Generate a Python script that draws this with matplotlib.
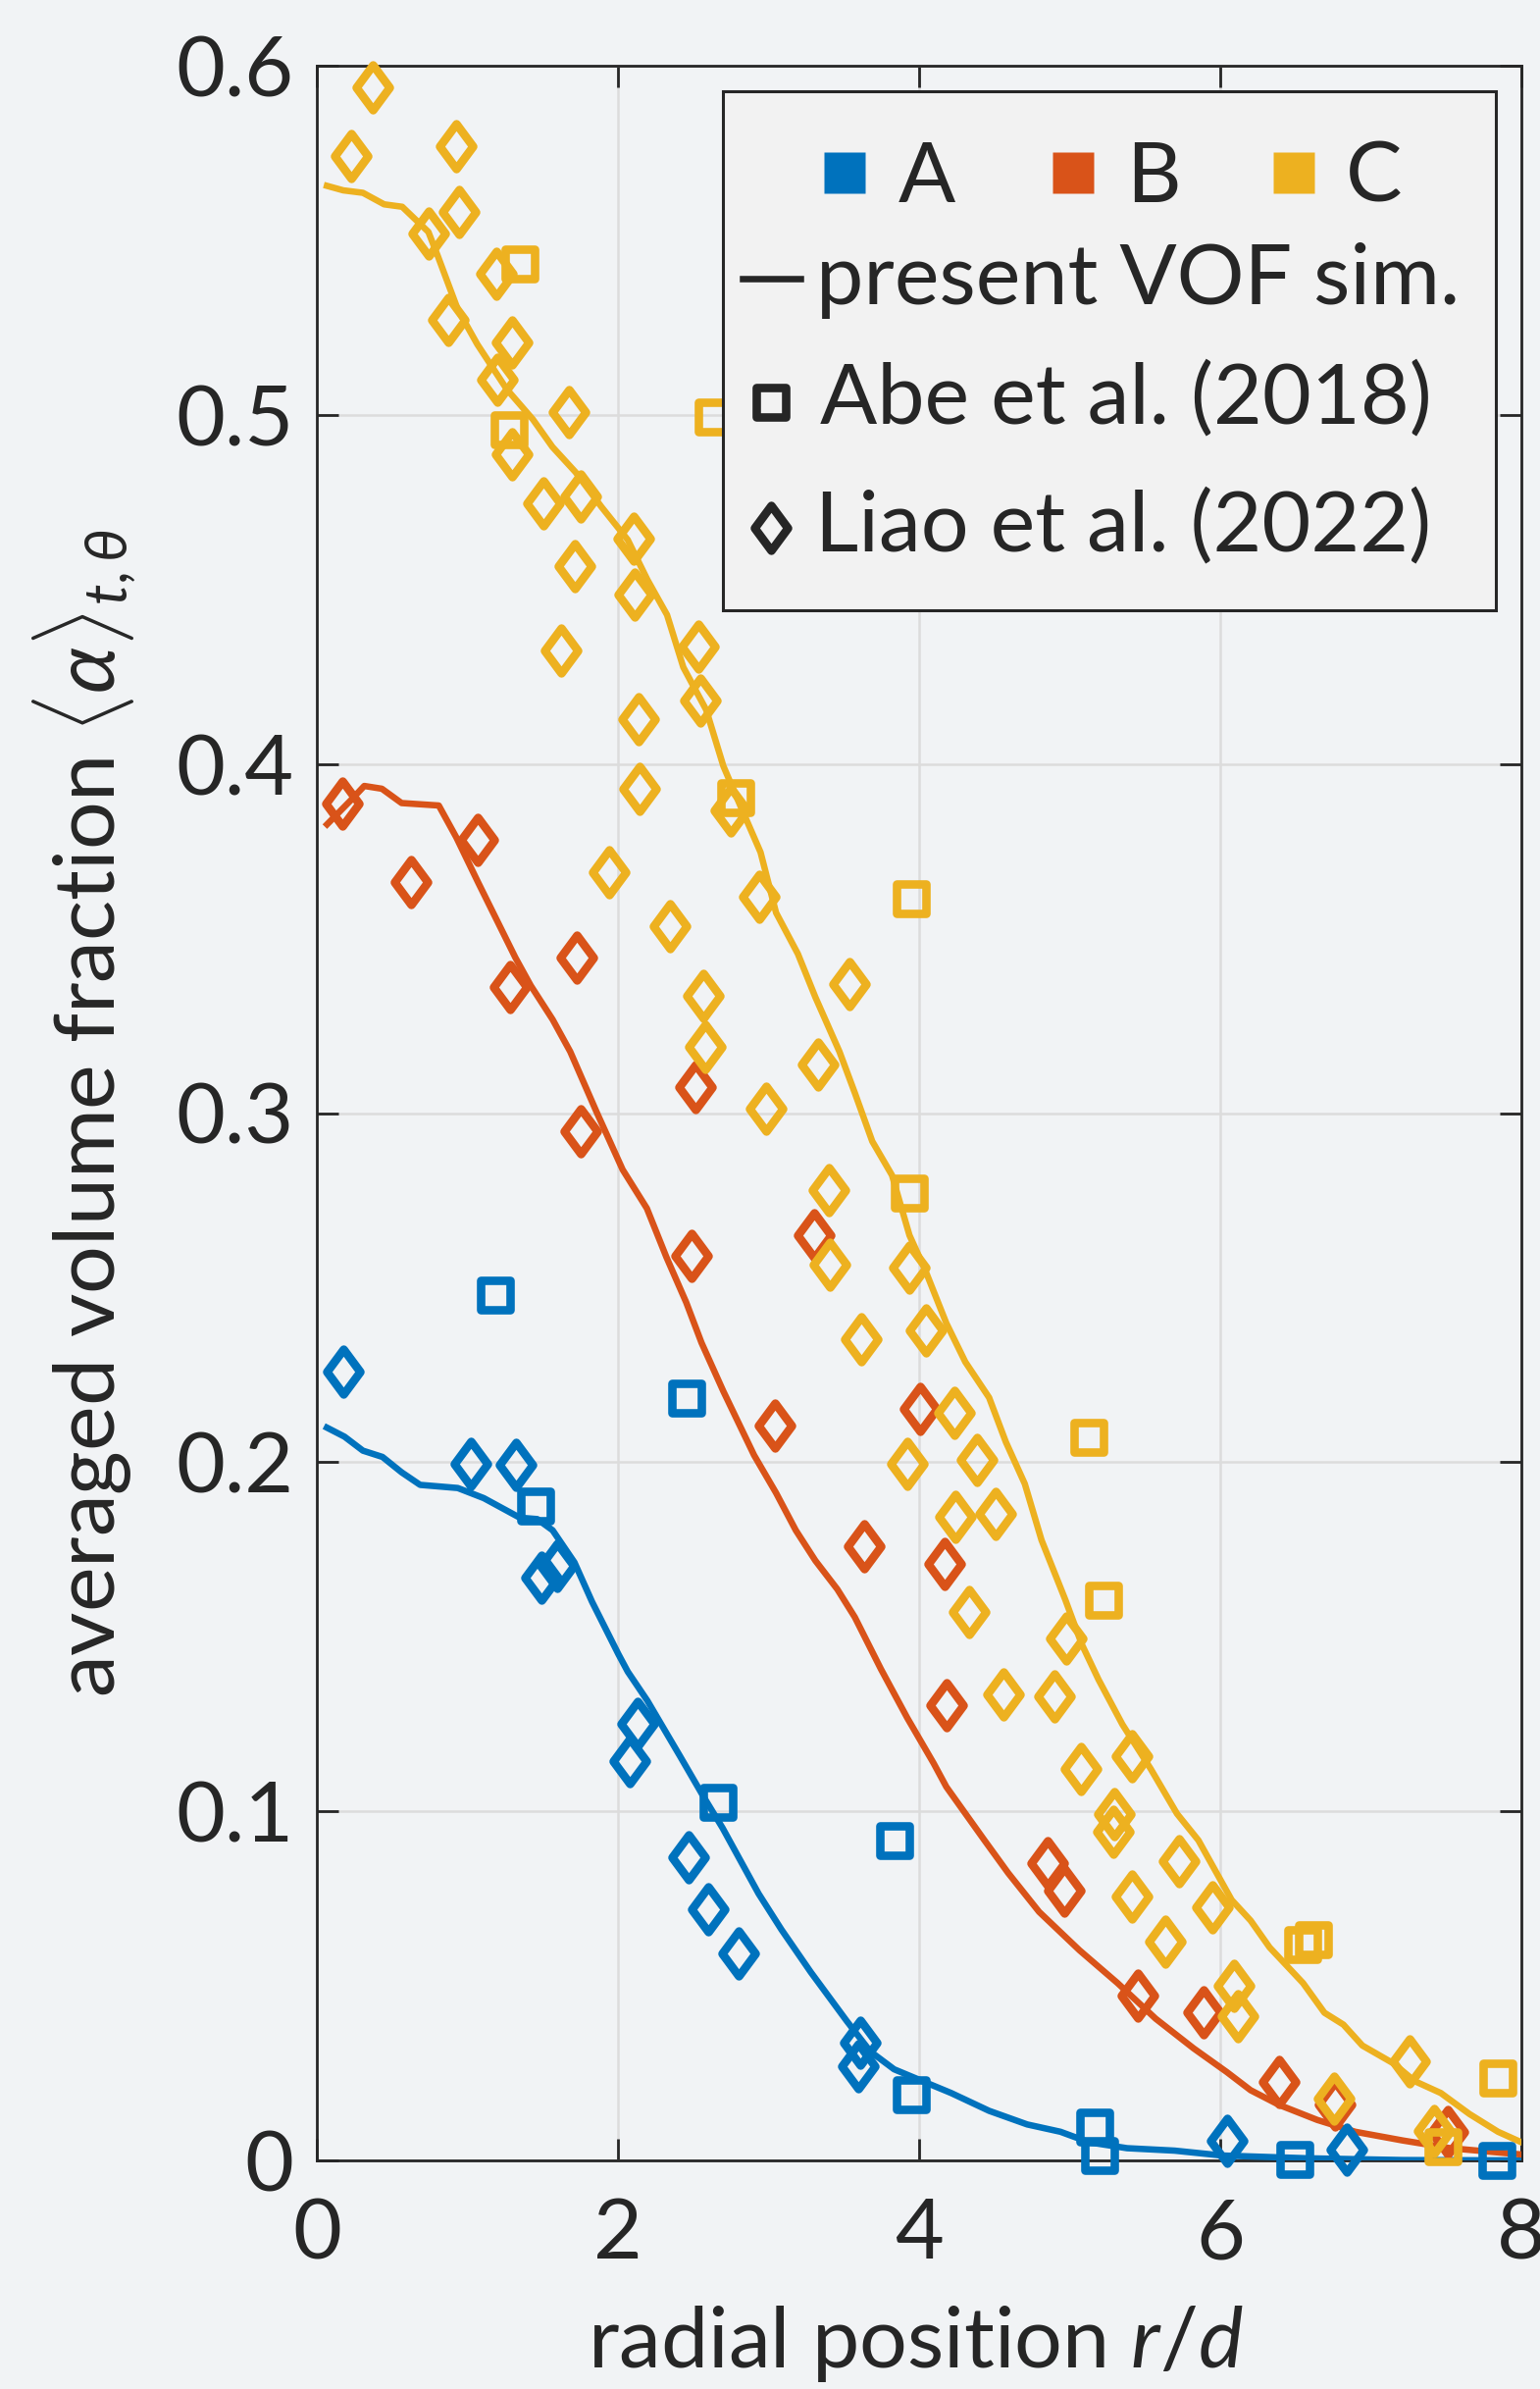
import matplotlib
matplotlib.use("Agg")
import matplotlib.pyplot as plt
from matplotlib.path import Path
from matplotlib.markers import MarkerStyle
from matplotlib.patches import Rectangle

plt.rcParams['font.family'] = ['Lato', 'DejaVu Sans']
plt.rcParams['mathtext.fontset'] = 'custom'
plt.rcParams['mathtext.rm'] = 'Lato'
plt.rcParams['mathtext.it'] = 'Lato:italic'
plt.rcParams['mathtext.bf'] = 'Lato:bold'

# ---- present VOF simulation, case A/B/C ----
r_sim_A = [0.067, 0.184, 0.306, 0.436, 0.563, 0.686, 0.936, 1.109, 1.348, 1.464, 1.566,
           1.711, 1.828, 2.003, 2.065, 2.195, 2.412, 2.564, 2.695, 2.934, 3.086, 3.281,
           3.52, 3.676, 3.834, 4.023, 4.213, 4.465, 4.718, 4.939, 5.128, 5.381, 5.697,
           6.013, 6.581, 7.213, 8.0]
alpha_sim_A = [0.2099, 0.2073, 0.2033, 0.2015, 0.1971, 0.1935, 0.1926, 0.1897, 0.1841,
               0.1837, 0.1805, 0.1713, 0.1600, 0.1450, 0.1400, 0.1317, 0.1158, 0.1045,
               0.0952, 0.0764, 0.0661, 0.0539, 0.0399, 0.0312, 0.0261, 0.0227, 0.0193,
               0.0142, 0.0103, 0.0082, 0.0052, 0.0035, 0.0028, 0.0014, 0.0006, 0.0001,
               0.0]

r_sim_B = [0.068, 0.228, 0.315, 0.432, 0.563, 0.810, 0.926, 1.072, 1.319, 1.421, 1.566,
           1.683, 1.857, 2.031, 2.192, 2.322, 2.453, 2.555, 2.700, 2.904, 3.050, 3.181,
           3.311, 3.457, 3.573, 3.747, 3.922, 4.096, 4.181, 4.434, 4.592, 4.797, 5.065,
           5.318, 5.571, 5.823, 6.044, 6.202, 6.391, 6.644, 6.897, 7.213, 7.528, 8.0]
alpha_sim_B = [0.3827, 0.3897, 0.3937, 0.3929, 0.3888, 0.3881, 0.3790, 0.3660, 0.3445,
               0.3365, 0.3268, 0.3176, 0.3004, 0.2838, 0.2727, 0.2587, 0.2458, 0.2342,
               0.2203, 0.2020, 0.1912, 0.1805, 0.1718, 0.1636, 0.1556, 0.1407, 0.1267,
               0.1138, 0.1070, 0.0917, 0.0823, 0.0712, 0.0602, 0.0508, 0.0406, 0.0321,
               0.0253, 0.0201, 0.0159, 0.0116, 0.0082, 0.0057, 0.0035, 0.0017]

r_sim_C = [0.067, 0.176, 0.306, 0.447, 0.567, 0.741, 0.806, 0.936, 1.066, 1.262, 1.435,
           1.565, 1.718, 1.891, 2.065, 2.195, 2.326, 2.434, 2.586, 2.700, 2.817, 2.947,
           3.050, 3.195, 3.311, 3.471, 3.573, 3.689, 3.820, 3.936, 4.038, 4.181, 4.307,
           4.465, 4.576, 4.702, 4.813, 4.971, 5.081, 5.192, 5.350, 5.539, 5.713, 5.855,
           5.966, 6.076, 6.202, 6.328, 6.550, 6.692, 6.818, 6.944, 7.150, 7.292, 7.465,
           7.655, 7.845, 8.0]
alpha_sim_C = [0.5656, 0.5643, 0.5636, 0.5603, 0.5596, 0.5524, 0.5452, 0.5302, 0.5202,
               0.5073, 0.4987, 0.4908, 0.4836, 0.4736, 0.4642, 0.4528, 0.4427, 0.4277,
               0.4155, 0.3994, 0.3876, 0.3747, 0.3574, 0.3456, 0.3332, 0.3176, 0.3058,
               0.2919, 0.2822, 0.2650, 0.2553, 0.2398, 0.2287, 0.2185, 0.2058, 0.1938,
               0.1777, 0.1606, 0.1478, 0.1377, 0.1249, 0.1121, 0.0993, 0.0917, 0.0831,
               0.0746, 0.0687, 0.0610, 0.0508, 0.0423, 0.0389, 0.0329, 0.0278, 0.0227,
               0.0193, 0.0133, 0.0082, 0.0052]

# ---- Abe et al. (2018) ----
r_abe_A = [1.188, 2.459, 1.450, 2.662, 3.835, 3.945, 5.166, 5.198, 6.492, 7.835]
alpha_abe_A = [0.2479, 0.2184, 0.1874, 0.1025, 0.0916, 0.0188, 0.0096, 0.0014, 0.0002, 0.0]
r_abe_C = [1.349, 1.279, 2.630, 2.782, 3.951, 3.936, 5.128, 5.223, 6.550, 6.620, 7.481, 7.845]
alpha_abe_C = [0.5431, 0.4958, 0.4994, 0.3904, 0.3614, 0.2770, 0.2071, 0.1606, 0.0619,
               0.0632, 0.0040, 0.0235]

# ---- Liao et al. (2022) ----
r_liao_A = [0.179, 1.020, 1.325, 1.493, 1.596, 2.075, 2.133, 2.467, 2.597, 2.799, 3.607,
            3.597, 6.044, 6.843]
alpha_liao_A = [0.2259, 0.1996, 0.1993, 0.1668, 0.1702, 0.1143, 0.1251, 0.0867, 0.0720,
                0.0593, 0.0338, 0.0269, 0.0057, 0.0031]
r_liao_B = [0.170, 0.624, 1.066, 1.284, 1.726, 1.755, 2.514, 2.491, 3.302, 3.040, 4.009,
            3.634, 4.169, 4.181, 4.853, 4.964, 5.454, 5.887, 6.391, 6.761, 7.513]
alpha_liao_B = [0.3886, 0.3663, 0.3784, 0.3362, 0.3445, 0.2949, 0.3074, 0.2591, 0.2650,
                0.2104, 0.2152, 0.1758, 0.1710, 0.1305, 0.0852, 0.0772, 0.0471, 0.0423,
                0.0224, 0.0159, 0.0082]
r_liao_C = [0.371, 0.230, 0.925, 0.947, 0.741, 1.192, 0.871, 1.294, 1.197, 1.294, 1.674,
            1.505, 1.750, 1.713, 1.622, 2.102, 2.109, 2.536, 2.549, 2.137, 2.141, 2.749,
            2.939, 1.944, 2.345, 2.569, 2.579, 3.538, 2.986, 3.328, 3.398, 3.404, 3.936,
            3.616, 4.044, 4.236, 3.922, 4.242, 4.331, 4.386, 4.506, 4.977, 4.560, 4.898,
            5.413, 5.075, 5.296, 5.293, 5.413, 5.728, 5.950, 5.634, 6.092, 6.117, 7.260,
            6.754, 7.417]
alpha_liao_C = [0.5937, 0.5742, 0.5770, 0.5581, 0.5520, 0.5405, 0.5273, 0.5208, 0.5101,
                0.4886, 0.5008, 0.4747, 0.4767, 0.4566, 0.4324, 0.4645, 0.4485, 0.4337,
                0.4181, 0.4129, 0.3929, 0.3868, 0.3620, 0.3690, 0.3535, 0.3336, 0.3190,
                0.3370, 0.3012, 0.3139, 0.2778, 0.2566, 0.2557, 0.2353, 0.2377, 0.2141,
                0.1995, 0.1844, 0.1570, 0.2006, 0.1853, 0.1496, 0.1334, 0.1329, 0.1158,
                0.1121, 0.0993, 0.0942, 0.0755, 0.0857, 0.0726, 0.0627, 0.0500, 0.0414,
                0.0283, 0.0176, 0.0085]

case_labels = ['A', 'B', 'C']
case_colors = ['#0072BD', '#D95319', '#EDB120']
source_labels = ['present VOF sim.', 'Abe et al. (2018)', 'Liao et al. (2022)']

x_ticks = [0, 2, 4, 6, 8]
y_ticks = [0, 0.1, 0.2, 0.3, 0.4, 0.5, 0.6]

ink = '#262626'
bg = '#f1f3f5'
FS = 62

# MATLAB style diamond (a bit taller than wide)
diamond = MarkerStyle(Path([(0, 1), (0.74, 0), (0, -1), (-0.74, 0), (0, 1)],
                           [Path.MOVETO, Path.LINETO, Path.LINETO, Path.LINETO,
                            Path.CLOSEPOLY]), joinstyle='round')
square = MarkerStyle('s', joinstyle='round')
sq_kw = dict(ls='none', marker=square, ms=21, mew=6.2, mfc='none', clip_on=False)
di_kw = dict(ls='none', marker=diamond, ms=33, mew=6.2, mfc='none', clip_on=False)

fig = plt.figure(figsize=(15.7, 24.35), dpi=100, facecolor=bg)
ax = fig.add_axes([323 / 1570, 1 - 2202 / 2435, 1228 / 1570, 2135 / 2435], facecolor=bg)

sims = [(r_sim_A, alpha_sim_A), (r_sim_B, alpha_sim_B), (r_sim_C, alpha_sim_C)]
abe = [(r_abe_A, alpha_abe_A), None, (r_abe_C, alpha_abe_C)]
liao = [(r_liao_A, alpha_liao_A), (r_liao_B, alpha_liao_B), (r_liao_C, alpha_liao_C)]

for i, col in enumerate(case_colors):
    ax.plot(*sims[i], color=col, lw=4.7, solid_joinstyle='round', zorder=3)
    if abe[i] is not None:
        ax.plot(*abe[i], mec=col, zorder=4, **sq_kw)
    ax.plot(*liao[i], mec=col, zorder=4, **di_kw)

ax.set_xlim(0, 8)
ax.set_ylim(0, 0.6)
ax.set_xticks(x_ticks)
ax.set_yticks(y_ticks)
ax.set_xticklabels([f'{v:g}' for v in x_ticks])
ax.set_yticklabels([f'{v:g}' for v in y_ticks])
ax.set_axisbelow(True)
ax.grid(True, color='#dcdcdc', lw=1.8)
ax.tick_params(direction='in', length=16, width=2.0, top=True, right=True,
               colors=ink, labelsize=FS)
ax.tick_params(axis='x', pad=27)
ax.tick_params(axis='y', pad=17)
for s in ax.spines.values():
    s.set_color(ink)
    s.set_linewidth(2.0)

ax.set_xlabel('radial position $r/d$', fontsize=FS, color=ink, va='baseline')
ax.xaxis.set_label_coords(0.497, -0.0988)
ax.set_ylabel(r'averaged volume fraction $\langle\alpha\rangle_{t,\theta}$',
              fontsize=FS, color=ink, va='baseline')
ax.yaxis.set_label_coords(-0.167, 0.5)

# legend box: colour key on the first row, data sources below
tr = ax.transAxes
ax.add_patch(Rectangle((0.3369, 0.7399), 0.6422, 0.2481, transform=tr,
                       facecolor='#f2f2f2', edgecolor=ink, lw=2.2, zorder=10,
                       clip_on=False))
for lab, col, xm, xt in zip(case_labels, case_colors,
                            [0.4381, 0.6279, 0.8107], [0.4829, 0.6718, 0.8542]):
    ax.plot([xm], [0.9490], transform=tr, ls='none', marker='s', ms=30,
            mfc=col, mec='none', zorder=11, clip_on=False)
    ax.text(xt, 0.9349, lab, transform=tr, fontsize=FS, color=ink,
            va='baseline', ha='left', zorder=11)

ax.plot([0.3531, 0.4013], [0.8985, 0.8985], transform=tr, color=ink, lw=4.7,
        zorder=11, clip_on=False)
ax.plot([0.3774], [0.8395], transform=tr, mec=ink, zorder=11, **sq_kw)
ax.plot([0.3772], [0.7794], transform=tr, mec=ink, zorder=11, **di_kw)
for lab, xt, yt in zip(source_labels, [0.4149, 0.4178, 0.4137], [0.8863, 0.8291, 0.7685]):
    ax.text(xt, yt, lab, transform=tr, fontsize=FS, color=ink,
            va='baseline', ha='left', zorder=11)

fig.savefig('out.png', dpi=100, facecolor=bg)
